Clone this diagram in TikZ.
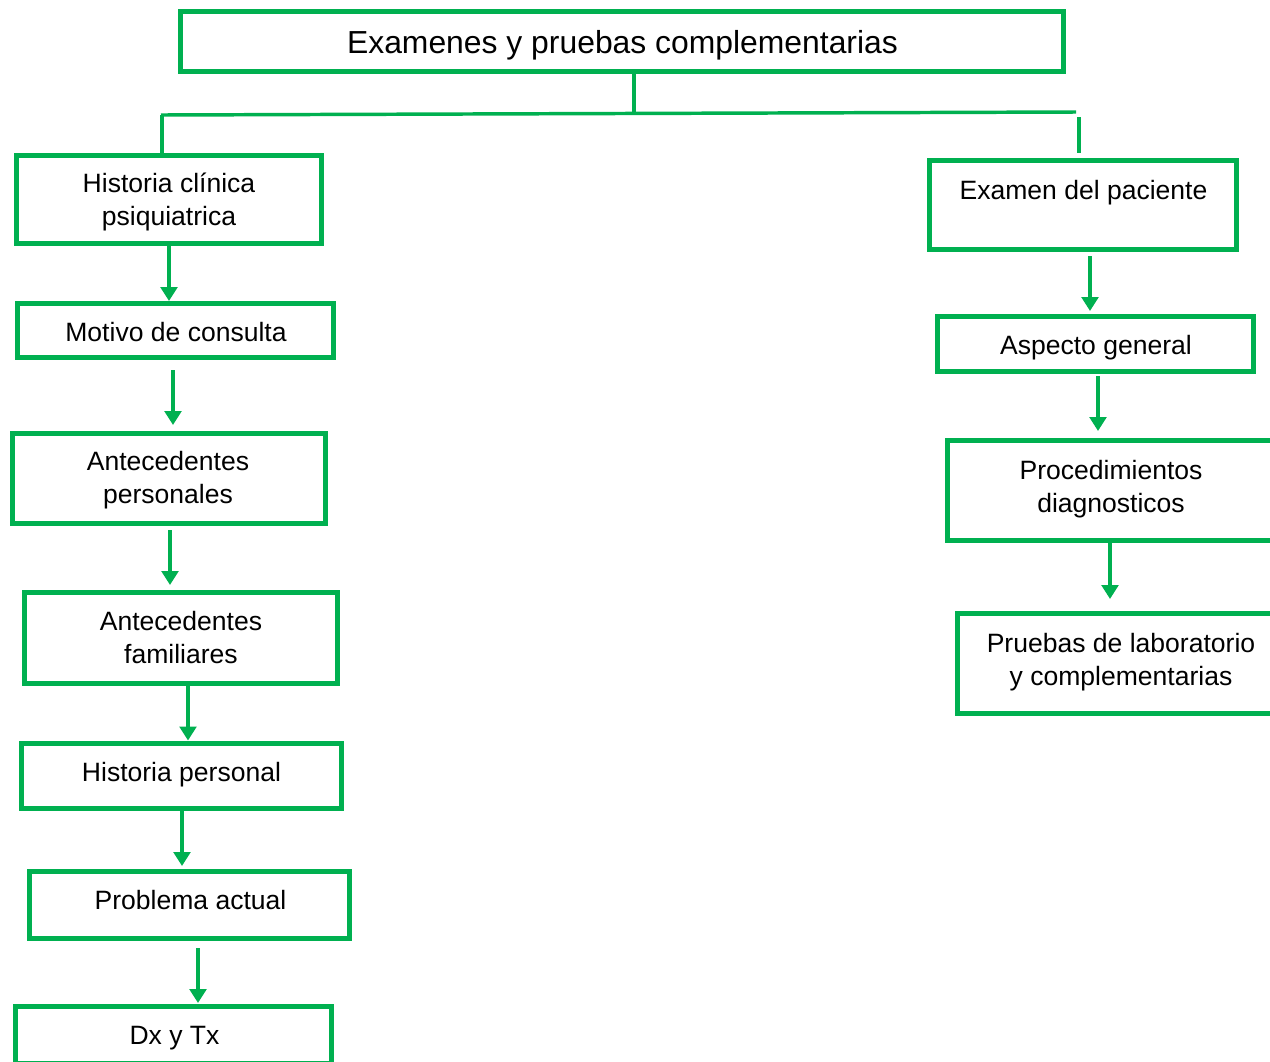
\documentclass[tikz,border=0pt]{standalone}
\usepackage{fontspec}
\setmainfont{Liberation Sans}
\usetikzlibrary{arrows.meta,calc}
\definecolor{ogreen}{RGB}{0,176,80}
\newdimen\pxu \pxu=0.75pt
\begin{document}
\begin{tikzpicture}[x=0.75pt,y=-0.75pt,
  box/.style={draw=ogreen,line width=3.75pt,rectangle,inner sep=0pt},
  txt/.style={inner sep=0pt,align=center,anchor=base,
    font=\fontsize{19.9pt}{24.6pt}\selectfont},
  conn/.style={draw=ogreen,line width=2.6pt},
  arr/.style={draw=ogreen,line width=3pt,-{Triangle[width=12.5pt,length=10.5pt]}}]
\useasboundingbox (0,0) rectangle (1270,1061);
\clip (0,0) rectangle (1270,1061);
% boxes
\node[box,minimum width=883\pxu,minimum height=60\pxu] (title) at (622,41.5) {};
\node[box,minimum width=305\pxu,minimum height=88\pxu] (hc) at (169,199.5) {};
\node[box,minimum width=316\pxu,minimum height=54\pxu] (mc) at (175.5,330.5) {};
\node[box,minimum width=313\pxu,minimum height=90\pxu] (ap) at (169,478.5) {};
\node[box,minimum width=313\pxu,minimum height=91\pxu] (af) at (181,638) {};
\node[box,minimum width=320\pxu,minimum height=65\pxu] (hp) at (181.5,775.5) {};
\node[box,minimum width=320\pxu,minimum height=67\pxu] (pa) at (189.5,905) {};
\node[box,minimum width=316\pxu,minimum height=57\pxu] (dx) at (173.5,1035) {};
\node[box,minimum width=307\pxu,minimum height=89\pxu] (ep) at (1083,205) {};
\node[box,minimum width=316\pxu,minimum height=55\pxu] (ag) at (1095.5,344) {};
\node[box,minimum width=327\pxu,minimum height=100\pxu] (pd) at (1111,490.5) {};
\node[box,minimum width=327\pxu,minimum height=100\pxu] (pl) at (1121,663.5) {};
% texts (anchor base = baseline of last line)
\node[txt,font=\fontsize{23.9pt}{28pt}\selectfont] (titlet) at (622.5,53) {Examenes y pruebas complementarias};
\node[txt] (hct) at (169,225.5) {Historia clínica\\psiquiatrica};
\node[txt] (mct) at (176,341) {Motivo de consulta};
\node[txt] (apt) at (168,503) {Antecedentes\\personales};
\node[txt] (aft) at (181,663) {Antecedentes\\familiares};
\node[txt] (hpt) at (181.5,781) {Historia personal};
\node[txt] (pat) at (190.5,909) {Problema actual};
\node[txt] (dxt) at (174.5,1044) {Dx y Tx};
\node[txt] (ept) at (1083.5,199) {Examen del paciente};
\node[txt] (agt) at (1096,354) {Aspecto general};
\node[txt] (pdt) at (1111,512) {Procedimientos\\diagnosticos};
\node[txt] (plt) at (1121,685) {Pruebas de laboratorio\\y complementarias};
% guide coordinates
\coordinate (hub) at (634,113);
\coordinate (hl) at (161,115);
\coordinate (hr) at (1076,112);
\coordinate (rt) at (1079,117);
\coordinate (g1) at (169,0);
\coordinate (g2) at (173,0);
\coordinate (g3) at (170,0);
\coordinate (g4) at (188,0);
\coordinate (g5) at (182,0);
\coordinate (g6) at (198,0);
\coordinate (g7) at (1090,0);
\coordinate (g8) at (1098,0);
\coordinate (g9) at (1110,0);
% top connectors
\draw[conn] (title.south -| hub) -- (hub);
\draw[conn] (hl) -- (hr);
\draw[conn] ($(hl)+(1,0)$) -- ($(hc.north -| hl)+(1,0)$);
\draw[conn] (rt) -- ($(ep.north -| rt)+(0,-5)$);
% arrows left
\draw[arr] (hc.south -| g1) -- (mc.north -| g1);
\draw[arr] ($(mc.south -| g2)+(0,10)$) -- ($(ap.north -| g2)+(0,-6)$);
\draw[arr] ($(ap.south -| g3)+(0,4)$) -- ($(af.north -| g3)+(0,-5)$);
\draw[arr] (af.south -| g4) -- (hp.north -| g4);
\draw[arr] (hp.south -| g5) -- ($(pa.north -| g5)+(0,-3)$);
\draw[arr] ($(pa.south -| g6)+(0,7)$) -- ($(dx.north -| g6)+(0,-1)$);
% arrows right
\draw[arr] ($(ep.south -| g7)+(0,4)$) -- ($(ag.north -| g7)+(0,-3)$);
\draw[arr] ($(ag.south -| g8)+(0,2)$) -- ($(pd.north -| g8)+(0,-7)$);
\draw[arr] (pd.south -| g9) -- ($(pl.north -| g9)+(0,-12)$);
\end{tikzpicture}
\end{document}
